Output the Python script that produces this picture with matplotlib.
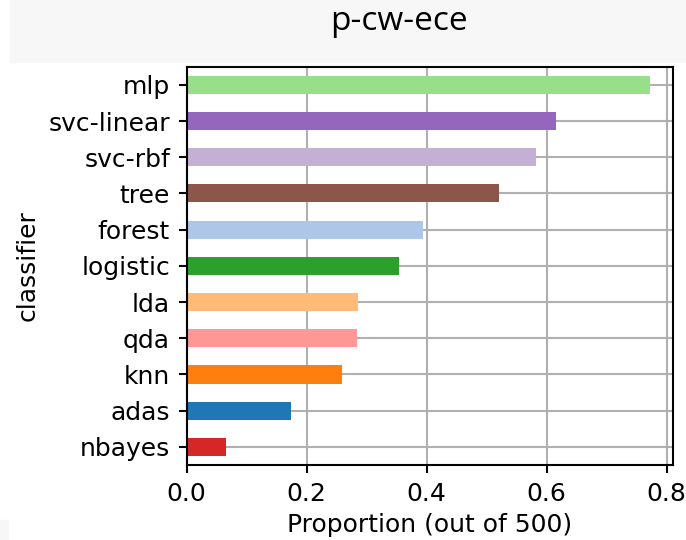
import matplotlib
matplotlib.use("Agg")
import matplotlib.pyplot as plt
from matplotlib.patches import Rectangle

# proportion of runs (out of 500) where each classifier was picked, p-cw-ece
classifiers = ["nbayes", "adas", "knn", "qda", "lda", "logistic",
               "forest", "tree", "svc-rbf", "svc-linear", "mlp"]
proportions = [0.066, 0.174, 0.258, 0.284, 0.286, 0.354,
               0.394, 0.520, 0.582, 0.616, 0.772]
colors = ["#d62728", "#1f77b4", "#ff7f0e", "#ff9896", "#ffbb78", "#2ca02c",
          "#aec7e8", "#8c564b", "#c5b0d5", "#9467bd", "#98df8a"]

fig = plt.figure(figsize=(6.86, 5.4), dpi=100)

# light title band across the top
fig.patches.append(Rectangle((10 / 686, 1 - 62 / 540), 1, 62 / 540,
                             transform=fig.transFigure, color="#f7f7f7", zorder=0))
fig.patches.append(Rectangle((0, 0), 8 / 686, 20 / 540,
                             transform=fig.transFigure, color="#f7f7f7", zorder=0))
fig.text(399 / 686, 1 - 22 / 540, "p-cw-ece", ha="center", va="center",
         fontsize=24, family="Open Sans")

ax = fig.add_axes([186.7 / 686, 1 - 465 / 540, (673 - 186.7) / 686, (465 - 66.7) / 540])
y = list(range(len(classifiers)))
ax.barh(y, proportions, height=0.5, color=colors, zorder=2)
ax.set_yticks(y)
ax.set_yticklabels(classifiers)
ax.set_ylim(-0.5, len(classifiers) - 0.5)
ax.set_xlim(0, 0.8105)
ax.set_xticks([0.0, 0.2, 0.4, 0.6, 0.8])
ax.grid(True, color="#b0b0b0", linewidth=1.5, zorder=0)
ax.set_axisbelow(True)
for s in ax.spines.values():
    s.set_linewidth(1.5)
ax.tick_params(labelsize=18, width=1.5, length=6, pad=6)
ax.set_xlabel("Proportion (out of 500)", fontsize=18, labelpad=5)
ax.set_ylabel("classifier", fontsize=18, labelpad=6)

fig.savefig("out.png", dpi=100)
